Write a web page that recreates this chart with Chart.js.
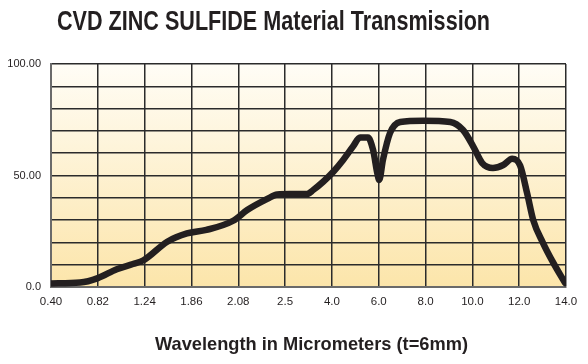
<!DOCTYPE html>
<html>
<head>
<meta charset="utf-8">
<script src="https://cdn.jsdelivr.net/npm/chart.js@4"></script>
<style>
  html, body { margin: 0; padding: 0; background: #fff; }
  #wrap { width: 588px; height: 364px; }
</style>
</head>
<body>
<div id="wrap"><canvas id="chart" width="588" height="364"></canvas></div>
<script>
// x axis: evenly spaced ticks with these wavelength labels (micrometers)
const xTicks = [0.40, 0.82, 1.24, 1.86, 2.08, 2.5, 4.0, 6.0, 8.0, 10.0, 12.0, 14.0];
const xTickText = ['0.40', '0.82', '1.24', '1.86', '2.08', '2.5', '4.0', '6.0', '8.0', '10.0', '12.0', '14.0'];
const yTickValues = [0, 50, 100];
const yTickText = ['0.0', '50.00', '100.00'];

// transmission curve
const wavelength = [0.40, 0.66, 0.82, 0.99, 1.135, 1.23, 1.54, 1.80, 1.93, 2.056, 2.16, 2.34, 2.43,
    2.66, 3.2, 3.4, 3.72, 4.06, 4.48, 4.9, 5.2, 5.54, 5.76, 5.94, 6.02, 6.18, 6.48, 6.92,
    7.9, 9.06, 9.6, 10.04, 10.42, 10.88, 11.32, 11.7, 12.04, 12.34, 12.6, 13.02, 13.46, 13.96];
const transmission = [1.6, 2, 4, 8, 10.3, 12, 20.3, 24, 25.6, 29.7, 34.5, 39.5, 41.5,
    41.7, 41.7, 43.5, 47.2, 51.7, 57, 63, 67, 67, 61.4, 51, 48, 57, 69, 74,
    74.6, 74, 70.4, 63, 55.6, 53.4, 54.7, 57.5, 54.5, 42, 30, 19.7, 10.8, 1.8];

const chartTitle = 'CVD ZINC SULFIDE Material Transmission';
const xTitle = 'Wavelength in Micrometers (t=6mm)';

// the axis is not linear in wavelength: place each value between its two ticks
function toPos(w) {
    for (let i = 0; i < xTicks.length - 1; i++) {
        if (w <= xTicks[i + 1]) {
            return i + (w - xTicks[i]) / (xTicks[i + 1] - xTicks[i]);
        }
    }
    return xTicks.length - 1;
}

const points = wavelength.map((w, i) => ({ x: toPos(w), y: transmission[i] }));

const sans = "'Liberation Sans', Arial, sans-serif";

// squeeze text horizontally to look like a condensed face
function drawNarrow(ctx, text, cx, y, width) {
    const w = ctx.measureText(text).width;
    ctx.save();
    ctx.translate(cx, y);
    ctx.scale(width / w, 1);
    ctx.fillText(text, 0, 0);
    ctx.restore();
}

const paperPlugin = {
    id: 'paper',
    beforeDraw(chart) {
        const { ctx, chartArea: a } = chart;
        const g = ctx.createLinearGradient(0, a.top, 0, a.bottom);
        g.addColorStop(0, '#fffdf6');
        g.addColorStop(1, '#fce5aa');
        ctx.save();
        ctx.fillStyle = g;
        ctx.fillRect(a.left, a.top, a.right - a.left, a.bottom - a.top);
        ctx.restore();
    },
    afterDraw(chart) {
        const { ctx, chartArea: a } = chart;
        ctx.save();
        ctx.fillStyle = '#231f20';
        ctx.textAlign = 'center';
        ctx.textBaseline = 'alphabetic';
        ctx.font = 'bold 27px ' + sans;
        drawNarrow(ctx, chartTitle, 273.5, 30, 433);
        ctx.font = 'bold 19px ' + sans;
        drawNarrow(ctx, xTitle, 311.5, 349.5, 313);
        ctx.restore();
    }
};

new Chart(document.getElementById('chart'), {
    type: 'line',
    data: {
        datasets: [{
            data: points,
            borderColor: '#231f20',
            borderWidth: 6.5,
            pointRadius: 0,
            cubicInterpolationMode: 'monotone',
            borderCapStyle: 'round',
            borderJoinStyle: 'round',
            fill: false
        }]
    },
    options: {
        responsive: false,
        animation: false,
        layout: { padding: { left: 0, right: 22, top: 64, bottom: 0 } },
        plugins: {
            legend: { display: false },
            tooltip: { enabled: false }
        },
        scales: {
            x: {
                type: 'linear',
                min: 0,
                max: xTicks.length - 1,
                afterFit: s => { s.height = 77; },
                afterBuildTicks: s => { s.ticks = xTicks.map((t, i) => ({ value: i })); },
                ticks: {
                    autoSkip: false,
                    maxRotation: 0,
                    padding: 8,
                    color: '#231f20',
                    font: { family: sans, size: 11.5 },
                    callback: v => xTickText[v]
                },
                grid: { color: '#2b2b2b', lineWidth: 1.5, drawTicks: false },
                border: { color: '#6a6a6a', width: 2 }
            },
            y: {
                min: 0,
                max: 100,
                afterFit: s => { s.width = 51; },
                ticks: {
                    stepSize: 10,
                    padding: 10,
                    color: '#231f20',
                    font: { family: sans, size: 11 },
                    callback: v => {
                        const k = yTickValues.indexOf(v);
                        return k < 0 ? '' : yTickText[k];
                    }
                },
                grid: { color: '#2b2b2b', lineWidth: 1.5, drawTicks: false },
                border: { color: '#6a6a6a', width: 2 }
            }
        }
    },
    plugins: [paperPlugin]
});
</script>
</body>
</html>
